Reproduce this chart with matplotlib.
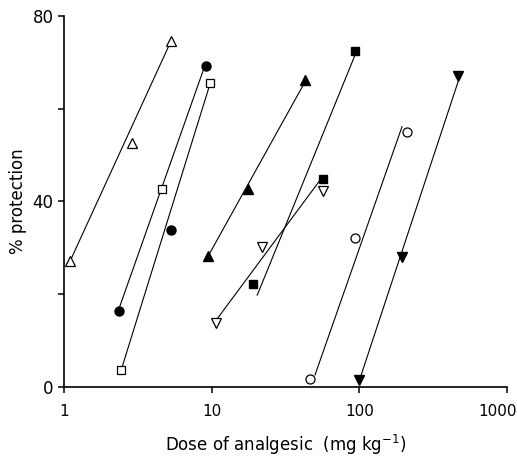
import numpy as np
import matplotlib.pyplot as plt
import matplotlib.transforms as mtransforms
from matplotlib.ticker import FixedLocator, NullLocator

# data points (dose mg/kg, % protection)
tri_open_x = [1.1, 2.9, 5.3]
tri_open_y = [27.2, 52.6, 74.6]
circ_fill_x = [2.36, 5.3, 9.15]
circ_fill_y = [16.4, 33.8, 69.2]
sq_open_x = [2.43, 4.6, 9.7]
sq_open_y = [3.7, 42.7, 65.5]
tri_fill_x = [9.4, 17.6, 42.8]
tri_fill_y = [28.2, 42.7, 66.2]
tdown_open_x = [10.7, 21.9, 56.7]
tdown_open_y = [13.8, 30.2, 42.3]
sq_fill_x = [19.0, 56.7, 93.4]
sq_fill_y = [22.2, 44.8, 72.4]
circ_open_x = [46.3, 93.4, 210]
circ_open_y = [1.7, 32.1, 55.0]
tdown_fill_x = [99.4, 194, 465]
tdown_fill_y = [1.5, 28.0, 67.0]

# fitted regression lines (end points)
fits = [
    ([1.1, 5.3], [27.2, 74.6]),
    ([2.36, 8.87], [17.0, 68.8]),
    ([2.47, 9.59], [4.3, 64.7]),
    ([9.44, 42.8], [28.2, 65.8]),
    ([10.7, 54.1], [14.4, 44.6]),
    ([20.3, 93.4], [19.8, 71.6]),
    ([50.0, 194], [2.6, 56.1]),
    ([100, 465], [1.5, 65.8]),
]

fig = plt.figure(figsize=(5.17, 4.61), dpi=100)
ax = fig.add_axes([0.124, 0.1605, 0.857, 0.805])

for fx, fy in fits:
    ax.plot(fx, fy, color='black', lw=0.8)

ms = 6.5
ax.plot(tri_open_x, tri_open_y, '^', ms=ms, mfc='white', mec='black', mew=0.9, ls='none')
ax.plot(circ_fill_x, circ_fill_y, 'o', ms=ms, color='black', ls='none')
ax.plot(sq_open_x, sq_open_y, 's', ms=ms - 0.5, mfc='white', mec='black', mew=0.9, ls='none')
ax.plot(tri_fill_x, tri_fill_y, '^', ms=ms, color='black', ls='none')
ax.plot(tdown_open_x, tdown_open_y, 'v', ms=ms, mfc='white', mec='black', mew=0.9, ls='none')
ax.plot(sq_fill_x, sq_fill_y, 's', ms=ms - 0.5, color='black', ls='none')
ax.plot(circ_open_x, circ_open_y, 'o', ms=ms, mfc='white', mec='black', mew=0.9, ls='none')
ax.plot(tdown_fill_x, tdown_fill_y, 'v', ms=ms, color='black', ls='none')

ax.set_xscale('log')
ax.set_xlim(1, 1000)
ax.set_ylim(0, 80)
ax.set_xticks([1, 10, 100, 1000])
ax.set_xticklabels(['1', '10', '100', '1000'])
ax.xaxis.set_minor_locator(NullLocator())
ax.set_yticks([0, 40, 80])
ax.yaxis.set_minor_locator(FixedLocator([20, 60]))

for s in ['top', 'right']:
    ax.spines[s].set_visible(False)
for s in ['left', 'bottom']:
    ax.spines[s].set_linewidth(1.2)
ax.tick_params(which='both', direction='out', length=4, width=1.1, labelsize=12)
ax.tick_params(axis='x', pad=8, labelsize=11)

# nudge the last x label so it stays inside the figure
lab = ax.get_xticklabels()[-1]
lab.set_transform(lab.get_transform() +
                  mtransforms.ScaledTranslation(-10 / 100, 0, fig.dpi_scale_trans))

ax.set_xlabel('Dose of analgesic  (mg kg$^{-1}$)', fontsize=12, labelpad=10)
ax.set_ylabel('% protection', fontsize=12, labelpad=4)

fig.savefig('out.png', dpi=100)
